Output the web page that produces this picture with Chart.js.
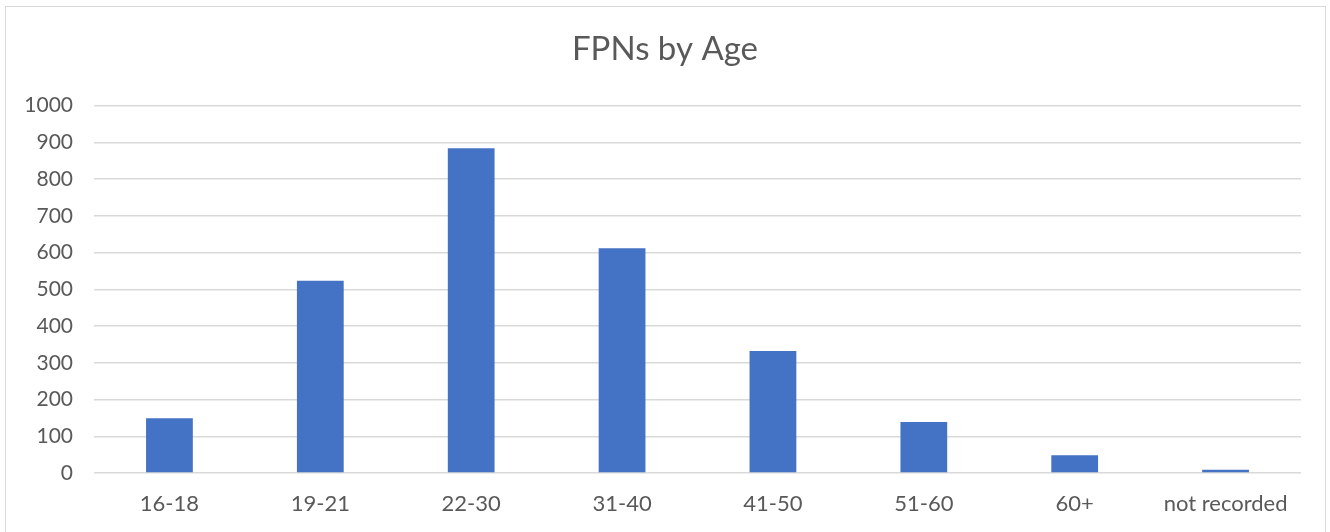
<!DOCTYPE html>
<html lang="en">
  <head>
    <meta charset="utf-8" />
    <title>FPNs by Age</title>
    <script src="https://cdn.jsdelivr.net/npm/chart.js"></script>
    <style>
      body {
        margin: 0;
        background: #ffffff;
      }
      #frame {
        position: absolute;
        left: 5px;
        top: 6px;
        width: 1321px;
        height: 540px;
        border: 1px solid #d9d9d9;
        box-sizing: border-box;
      }
      #wrap {
        position: absolute;
        left: 0;
        top: 0;
        width: 1330px;
        height: 532px;
      }
    </style>
  </head>
  <body>
    <div id="frame"></div>
    <div id="wrap">
      <canvas id="ageChart" width="1330" height="532"></canvas>
    </div>

    <script>
      // age bands and fixed penalty notice counts
      const ageBands = ["16-18", "19-21", "22-30", "31-40", "41-50", "51-60", "60+", "not recorded"];
      const fpnCounts = [149, 523, 884, 612, 332, 139, 48, 9];
      const yTicks = { min: 0, max: 1000, step: 100 };

      const textColor = "#595959";
      const gridColor = "#d9d9d9";
      const barColor = "#4472c4";
      const fontFamily = "Lato, 'Open Sans', sans-serif";

      const ctx = document.getElementById("ageChart").getContext("2d");
      new Chart(ctx, {
        type: "bar",
        data: {
          labels: ageBands,
          datasets: [
            {
              label: "FPNs",
              data: fpnCounts,
              backgroundColor: barColor,
              borderWidth: 0,
              categoryPercentage: 1,
              barPercentage: 0.31,
            },
          ],
        },
        options: {
          responsive: false,
          animation: false,
          layout: {
            padding: 0,
          },
          plugins: {
            legend: { display: false },
            tooltip: { enabled: false },
            title: {
              display: true,
              text: "FPNs by Age",
              color: textColor,
              font: { family: fontFamily, size: 33, weight: "normal" },
              padding: { top: 30, bottom: 36 },
            },
          },
          scales: {
            x: {
              grid: { display: false, drawTicks: false },
              border: { display: false },
              ticks: {
                color: textColor,
                font: { family: fontFamily, size: 22 },
                padding: 18,
                maxRotation: 0,
              },
              afterFit: (scale) => {
                scale.height = 59;
              },
            },
            y: {
              min: yTicks.min,
              max: yTicks.max,
              grid: { color: gridColor, lineWidth: 1.5, drawTicks: false },
              border: { display: false },
              ticks: {
                stepSize: yTicks.step,
                color: textColor,
                font: { family: fontFamily, size: 21 },
                padding: 21,
                callback: (value) => String(value),
              },
              afterFit: (scale) => {
                scale.width = 94;
              },
            },
            // empty right-hand axis, only reserves the right margin
            spacer: {
              type: "linear",
              position: "right",
              grid: { display: false, drawTicks: false },
              border: { display: false },
              ticks: { display: false },
              afterFit: (scale) => {
                scale.width = 29;
              },
            },
          },
        },
      });
    </script>
  </body>
</html>
